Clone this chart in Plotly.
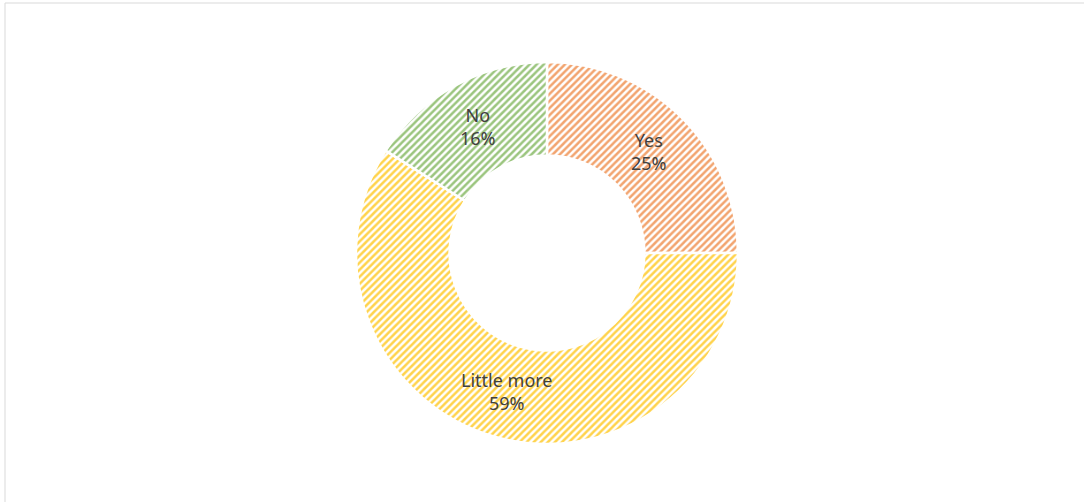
import math
import plotly.graph_objects as go

# Survey answers and their shares (percent)
labels = ["Yes", "Little more", "No"]
values = [25, 59, 16]
colors = ["#ED7D31", "#FFC000", "#70AD47"]
tints = ["#FCEEE4", "#FFF6DA", "#EAF4E4"]

W, H = 1084, 502
dom_x = [0.3284, 0.6808]
dom_y = [0.1155, 0.8765]
hole = 0.51

fig = go.Figure(
    go.Pie(
        labels=labels,
        values=values,
        hole=hole,
        sort=False,
        direction="clockwise",
        rotation=0,
        textinfo="none",
        marker=dict(
            colors=tints,
            line=dict(color="white", width=2.5),
            pattern=dict(
                shape="/",
                fgcolor=colors,
                bgcolor="white",
                fgopacity=0.7,
                size=5,
                solidity=0.5,
                fillmode="replace",
            ),
        ),
        domain=dict(x=dom_x, y=dom_y),
        showlegend=False,
        hoverinfo="label+percent",
    )
)

# Slice labels at the middle of the ring, at each slice's mid-angle
cx = (dom_x[0] + dom_x[1]) / 2
cy = (dom_y[0] + dom_y[1]) / 2
radius_px = min((dom_x[1] - dom_x[0]) * W, (dom_y[1] - dom_y[0]) * H) / 2
mid_r = radius_px * (1 + hole) / 2
total = sum(values)
cum = 0
for lab, val in zip(labels, values):
    ang = 2 * math.pi * (cum + val / 2) / total
    cum += val
    fig.add_annotation(
        x=cx + mid_r * math.sin(ang) / W,
        y=cy + mid_r * math.cos(ang) / H,
        xref="paper", yref="paper",
        xanchor="center", yanchor="middle",
        text=f"{lab}<br>{round(100 * val / total)}%",
        showarrow=False,
        font=dict(family="Noto Sans", size=18, color="#404040"),
        align="center",
    )

# Chart-area frame
fig.add_shape(
    type="rect", xref="paper", yref="paper",
    x0=5 / W, x1=1.2, y0=-0.2, y1=1 - 3 / H,
    line=dict(color="#D9D9D9", width=1), fillcolor="rgba(0,0,0,0)",
)

fig.update_layout(
    width=W,
    height=H,
    margin=dict(l=0, r=0, t=0, b=0),
    paper_bgcolor="white",
    plot_bgcolor="white",
)

fig.write_html("out.html")
